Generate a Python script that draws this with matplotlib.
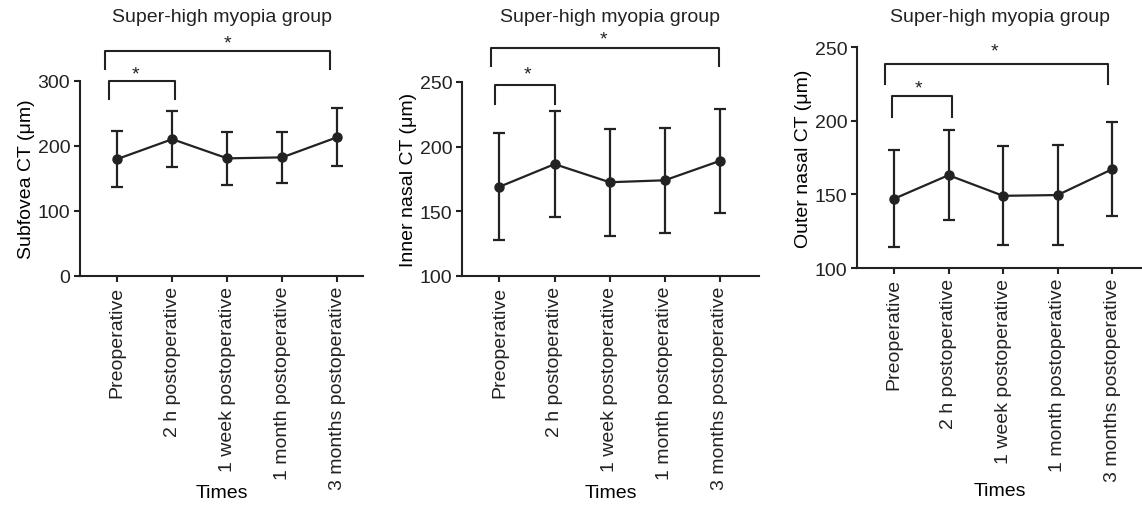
import matplotlib
matplotlib.use("Agg")
import matplotlib.pyplot as plt

plt.rcParams['font.family'] = ['Liberation Sans', 'DejaVu Sans']
plt.rcParams['font.size'] = 14

times = ['Preoperative', '2 h postoperative', '1 week postoperative',
         '1 month postoperative', '3 months postoperative']

# mean and SD
subfovea_mean = [180, 210.5, 181, 182.5, 213.5]
subfovea_sd = [43, 43.5, 41, 39, 44.5]
inner_mean = [169, 186.5, 172.5, 174, 189]
inner_sd = [41.5, 41, 41.5, 40.5, 40.5]
outer_mean = [147, 163, 149, 149.5, 167]
outer_sd = [33, 30.5, 33.5, 33.8, 32]

ylabels = ['Subfovea CT (\u03bcm)', 'Inner nasal CT (\u03bcm)', 'Outer nasal CT (\u03bcm)']
ylims = [(0, 300), (100, 250), (100, 250)]
yticks = [[0, 100, 200, 300], [100, 150, 200, 250], [100, 150, 200, 250]]

# brackets: (x0, x1, y_top, y_bottom, star_x, star_y)
brackets = [
    [(-0.16, 1.04, 300, 273, 0.33, 311), (-0.22, 3.87, 346, 318, 2.0, 358)],
    [(-0.09, 1.0, 247.4, 232.8, 0.51, 256), (-0.15, 3.98, 276.5, 262.3, 1.88, 283)],
    [(-0.04, 1.07, 216.7, 202.7, 0.45, 222), (-0.16, 3.93, 238.7, 224.7, 1.84, 247)],
]

col = '#222222'
fig = plt.figure(figsize=(11.42, 5.06), dpi=100)
W, H = 1142, 506
boxes = [(80, 363, 82, 277, 4.47), (462, 759, 83, 277, 4.71), (857, 1142, 48, 269, 4.55)]
xlabel_pads = [-4, -4, 1]
means = [subfovea_mean, inner_mean, outer_mean]
sds = [subfovea_sd, inner_sd, outer_sd]

for i in range(3):
    l, r, t, b, xr = boxes[i]
    ax = fig.add_axes([l / W, 1 - b / H, (r - l) / W, (b - t) / H])
    x = list(range(len(times)))
    ax.errorbar(x, means[i], yerr=sds[i], color=col, lw=1.6, marker='o', ms=6.5,
                capsize=4, capthick=1.6, elinewidth=1.6, clip_on=False)
    ax.set_xlim(-0.68, xr)
    ax.set_ylim(*ylims[i])
    ax.set_yticks(yticks[i])
    ax.set_xticks(x)
    ax.set_xticklabels(times, rotation=90)
    ax.set_xlabel('Times', labelpad=xlabel_pads[i])
    ax.set_ylabel(ylabels[i], labelpad=2)
    for s in ['top', 'right']:
        ax.spines[s].set_visible(False)
    for s in ['left', 'bottom']:
        ax.spines[s].set_linewidth(1.5)
        ax.spines[s].set_color(col)
    ax.tick_params(width=1.5, length=4, color=col, labelcolor=col, pad=3)
    for x0, x1, yt, yb, sx, sy in brackets[i]:
        ax.plot([x0, x0, x1, x1], [yb, yt, yt, yb], color=col, lw=1.5, clip_on=False)
        ax.text(sx, sy, '*', ha='center', va='center', fontsize=14, color=col)
    fig.text((l + r) / 2 / W, 1 - 18 / H, 'Super-high myopia group',
             ha='center', va='center', color=col)

fig.savefig('out.png', dpi=100)
